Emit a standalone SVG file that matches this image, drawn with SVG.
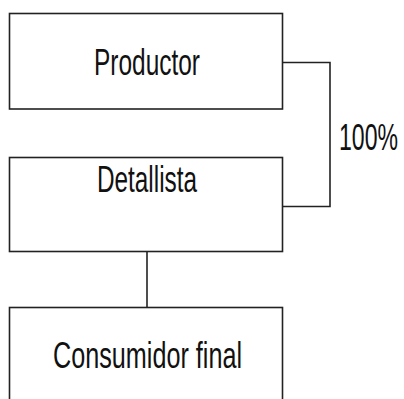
<svg xmlns="http://www.w3.org/2000/svg" width="404" height="399" viewBox="0 0 404 399">
<style>
.box{fill:#fff;stroke:#222;stroke-width:1.6}
.ln{fill:none;stroke:#222;stroke-width:1.6}
.t{font-family:"Liberation Sans",Arial,sans-serif;font-size:36px;fill:#111}
</style>
<rect width="404" height="399" fill="#fff"/>
<g id="connectors">
<path class="ln" d="M283 62.5 H330 V206.5 H283"/>
<path class="ln" d="M147 251.5 V307.5"/>
<text class="t" x="398" y="149.5" text-anchor="end" textLength="59" lengthAdjust="spacingAndGlyphs">100%</text>
</g>
<g id="productor">
<rect class="box" x="9.5" y="13.5" width="273" height="95.5"/>
<text class="t" x="147" y="75" text-anchor="middle" textLength="106" lengthAdjust="spacingAndGlyphs">Productor</text>
</g>
<g id="detallista">
<rect class="box" x="9.5" y="157.5" width="273" height="94"/>
<text class="t" x="147" y="191.5" text-anchor="middle" textLength="100" lengthAdjust="spacingAndGlyphs">Detallista</text>
</g>
<g id="consumidor">
<rect class="box" x="9.5" y="307.5" width="273" height="100"/>
<text class="t" x="147.5" y="367.5" text-anchor="middle" textLength="189" lengthAdjust="spacingAndGlyphs">Consumidor final</text>
</g>
</svg>
